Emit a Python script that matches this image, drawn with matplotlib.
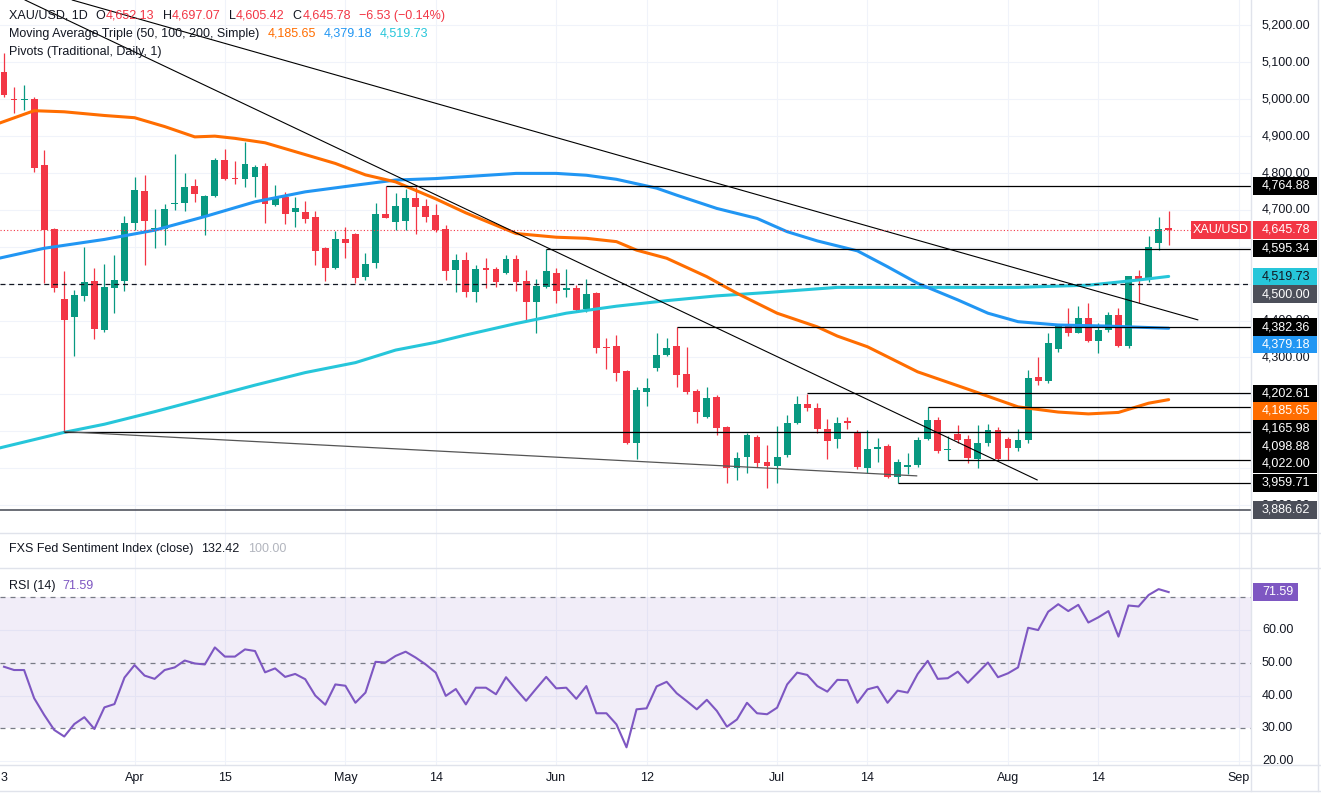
import matplotlib

matplotlib.use("Agg")
import matplotlib.pyplot as plt  # noqa: E402
from matplotlib.lines import Line2D  # noqa: E402
from matplotlib.patches import Rectangle  # noqa: E402
from matplotlib.transforms import blended_transform_factory as blend  # noqa: E402

plt.rcParams["font.family"] = ["Liberation Sans", "DejaVu Sans"]

# --- daily XAU/USD candles (bar index 0 .. 116) ---------------------------------
opens = [5074, 5002, 4999, 5000, 4822, 4648, 4458, 4410, 4467, 4507,
         4374, 4489, 4508, 4665, 4751, 4647, 4647, 4716, 4718, 4765,
         4682, 4739, 4835, 4786, 4785, 4788, 4819, 4714, 4734, 4693,
         4694, 4680, 4596, 4542, 4620, 4634, 4519, 4557, 4688, 4668,
         4671, 4732, 4711, 4686, 4648, 4537, 4564, 4478, 4542, 4540,
         4528, 4567, 4507, 4451, 4490, 4530, 4483, 4489, 4431, 4476,
         4328, 4331, 4262, 4069, 4207, 4271, 4308, 4331, 4255, 4210,
         4139, 4194, 4112, 3999, 4029, 4085, 4016, 4006, 4035, 4123,
         4174, 4162, 4105, 4078, 4129, 4097, 4000, 4052, 4061, 3975,
         4002, 4008, 4079, 4130, 4049, 4093, 4078, 4024, 4067, 4103,
         4079, 4054, 4076, 4246, 4237, 4322, 4388, 4367, 4406, 4345,
         4374, 4415, 4331, 4521, 4510, 4609, 4652.13]
highs = [5125, 5032, 5039, 5007, 4862, 4651, 4534, 4483, 4600, 4542,
         4553, 4578, 4683, 4790, 4796, 4702, 4716, 4851, 4799, 4783,
         4740, 4840, 4866, 4833, 4884, 4822, 4828, 4767, 4748, 4734,
         4725, 4697, 4600, 4644, 4654, 4637, 4584, 4718, 4765, 4747,
         4758, 4763, 4729, 4716, 4659, 4580, 4587, 4551, 4569, 4546,
         4578, 4577, 4537, 4514, 4595, 4542, 4541, 4496, 4513, 4478,
         4352, 4361, 4265, 4219, 4243, 4365, 4352, 4382, 4329, 4214,
         4221, 4198, 4115, 4045, 4096, 4090, 4063, 4114, 4144, 4195,
         4202, 4177, 4132, 4139, 4139, 4103, 4103, 4081, 4065, 4026,
         4040, 4085, 4166, 4139, 4088, 4117, 4090, 4117, 4120, 4111,
         4084, 4105, 4266, 4302, 4367, 4390, 4435, 4439, 4447, 4394,
         4424, 4433, 4521, 4537, 4629, 4680, 4697.07]
lows = [5006, 4963, 4971, 4804, 4502, 4477, 4099, 4305, 4454, 4350,
        4368, 4420, 4481, 4645, 4551, 4598, 4605, 4700, 4698, 4722,
        4632, 4736, 4781, 4770, 4763, 4736, 4665, 4710, 4662, 4654,
        4665, 4551, 4508, 4539, 4569, 4501, 4510, 4542, 4677, 4645,
        4645, 4636, 4668, 4641, 4510, 4478, 4465, 4451, 4487, 4490,
        4527, 4481, 4400, 4365, 4487, 4447, 4463, 4424, 4422, 4311,
        4268, 4237, 4066, 4024, 4168, 4262, 4305, 4219, 4201, 4123,
        4135, 4090, 3960, 3968, 3986, 4004, 3945, 3960, 4030, 4119,
        4156, 4094, 4024, 4054, 4106, 3997, 3986, 4017, 3972, 3960,
        3983, 4004, 4076, 4041, 4022, 4067, 4013, 3999, 4060, 4022,
        4022, 4047, 4067, 4225, 4232, 4315, 4358, 4365, 4343, 4311,
        4370, 4329, 4325, 4448, 4505, 4591, 4605.42]
closes = [5011, 4998, 5001, 4813, 4645, 4488, 4401, 4469, 4504, 4377,
          4491, 4510, 4665, 4754, 4671, 4650, 4702, 4718, 4761, 4742,
          4738, 4835, 4785, 4784, 4824, 4815, 4716, 4734, 4688, 4704,
          4676, 4589, 4542, 4620, 4609, 4516, 4553, 4688, 4679, 4711,
          4732, 4709, 4682, 4645, 4535, 4564, 4478, 4540, 4537, 4505,
          4567, 4504, 4451, 4494, 4534, 4481, 4489, 4429, 4472, 4326,
          4325, 4259, 4069, 4212, 4216, 4307, 4327, 4252, 4207, 4153,
          4189, 4109, 3999, 4027, 4090, 4015, 4006, 4031, 4121, 4174,
          4162, 4105, 4074, 4121, 4123, 4002, 4051, 4058, 3975, 4017,
          4009, 4076, 4130, 4047, 4052, 4075, 4027, 4067, 4103, 4024,
          4054, 4076, 4245, 4237, 4338, 4388, 4365, 4406, 4345, 4374,
          4415, 4331, 4521, 4513, 4600, 4648, 4645.78]
change, change_pct = -6.53, -0.14

# --- simple moving averages (sampled along the curves) -------------------------
ma50_bars = [-1, 3, 6, 10, 13, 16, 19, 21, 23, 26, 30, 33, 36, 39, 43, 46, 51, 55,
             58, 61, 63, 66, 70, 73, 77, 81, 83, 86, 91, 96, 101, 105, 108, 111,
             114, 116]
ma50 = [4930, 4969, 4966, 4956, 4950, 4926, 4898, 4900, 4894, 4882, 4850, 4826,
        4795, 4776, 4730, 4692, 4636, 4626, 4623, 4614, 4591, 4569, 4519, 4474,
        4420, 4383, 4358, 4329, 4261, 4214, 4166, 4152, 4147, 4151, 4176, 4185.65]
ma100_bars = [-1, 4, 10, 15, 20, 25, 30, 35, 39, 43, 51, 55, 58, 61, 65, 67, 71,
              75, 78, 81, 85, 88, 91, 95, 98, 101, 105, 110, 116]
ma100 = [4566, 4596, 4620, 4645, 4682, 4722, 4749, 4767, 4781, 4785, 4799, 4799,
         4794, 4783, 4759, 4740, 4704, 4677, 4641, 4616, 4589, 4546, 4501, 4456,
         4420, 4397, 4388, 4385, 4379.18]
ma200_bars = [-1, 6, 10, 15, 20, 25, 30, 35, 39, 43, 46, 51, 56, 61, 66, 71, 76,
              83, 91, 101, 108, 113, 116]
ma200 = [4051, 4097, 4119, 4153, 4189, 4225, 4259, 4286, 4320, 4341, 4361, 4392,
         4420, 4439, 4454, 4467, 4476, 4490, 4490, 4490, 4496, 4510, 4519.73]

# --- pivot levels (value, first bar) and hand-drawn trend lines -----------------
pivot_levels = [4764.88, 4595.34, 4382.36, 4202.61, 4165.98, 4098.88, 4022.00, 3959.71]
pivot_start = [38, 54, 67, 80, 92, 6, 94, 89]
level_dashed = 4500.00
level_bottom = 3886.62
trend_a_bars, trend_a_prices = [2.1, 102.9], [5269, 3968]
trend_b_bars, trend_b_prices = [6.8, 118.9], [5269, 4402]
trend_c_bars, trend_c_prices = [6, 90.9], [4098.88, 3979]

# --- RSI(14) --------------------------------------------------------------------
rsi = [48.8, 47.8, 47.8, 39.2, 34.1, 29.5, 27.5, 31.3, 33.4, 29.8,
       36.4, 37.4, 45.5, 49.3, 46.1, 45.1, 47.8, 48.6, 50.7, 49.8,
       49.5, 54.7, 51.9, 51.9, 54.1, 53.6, 47.1, 48.3, 45.7, 46.6,
       45.0, 40.0, 37.2, 43.4, 43.0, 37.8, 40.9, 50.3, 50.1, 52.1,
       53.4, 51.6, 49.5, 47.0, 39.9, 42.0, 37.3, 42.4, 42.4, 40.4,
       45.6, 41.9, 38.4, 42.1, 45.7, 42.2, 42.4, 39.0, 42.9, 34.6,
       34.6, 31.2, 24.2, 35.8, 36.1, 42.8, 44.2, 40.7, 38.3, 35.8,
       38.7, 35.3, 30.5, 32.7, 37.8, 34.6, 34.3, 36.3, 43.4, 47.0,
       46.3, 42.9, 41.2, 44.8, 44.7, 37.8, 41.9, 42.7, 37.8, 41.5,
       40.9, 46.6, 50.6, 45.1, 45.3, 47.3, 43.9, 47.0, 50.1, 45.6,
       46.8, 48.6, 60.7, 60.0, 65.6, 67.9, 65.8, 67.7, 62.3, 63.9,
       65.8, 58.0, 67.5, 67.2, 70.7, 72.5, 71.59]
fed_sentiment, fed_base = 132.42, 100.00

date_ticks = [0, 13, 22, 34, 43, 55, 64, 77, 86, 100, 109, 123]
date_labels = ["3", "Apr", "15", "May", "14", "Jun", "12", "Jul", "14", "Aug", "14", "Sep"]
price_ticks = list(range(3900, 5300, 100))
rsi_ticks = [20, 30, 40, 50, 60]

# --- styling -------------------------------------------------------------------
W, H = 1321, 793
UP, DOWN = "#089981", "#f23645"
TEXT = "#131722"
GRID = "#f0f3fa"
BORDER = "#e0e3eb"
C50, C100, C200 = "#ff6d00", "#2196f3", "#26c6da"
PURPLE = "#7e57c2"
FS = 9.0


def fx(px):
    return px / W


def fy(py):
    return 1 - py / H


fig = plt.figure(figsize=(W / 100, H / 100), dpi=100)
fig.patch.set_facecolor("white")
renderer = fig.canvas.get_renderer()
ax = fig.add_axes([0, fy(533), fx(1251), 533 / H])
ax_fxs = fig.add_axes([0, fy(568), fx(1251), 35 / H])
ax_rsi = fig.add_axes([0, fy(765), fx(1251), 197 / H])
for a in (ax, ax_fxs, ax_rsi):
    a.set_axis_off()
    a.set_xlim(-0.4, 124.2)
ax.set_ylim(3824.1, 5269.1)
ax_rsi.set_ylim(18.8, 78.95)
ppx = (5269.1 - 3824.1) / 533  # price units per pixel

# grid
for p in price_ticks:
    ax.axhline(p, color=GRID, lw=0.8, zorder=0)
for v in (20, 40, 60):
    ax_rsi.axhline(v, color=GRID, lw=0.8, zorder=0)
for b in date_ticks[1:]:
    for a in (ax, ax_fxs, ax_rsi):
        a.axvline(b, color=GRID, lw=0.8, zorder=0)

# candles
idx = list(range(len(opens)))
cols = [UP if c >= o else DOWN for o, c in zip(opens, closes)]
bottoms = [min(o, c) for o, c in zip(opens, closes)]
heights = [max(abs(c - o), 2.7) for o, c in zip(opens, closes)]
ax.vlines(idx, lows, highs, colors=cols, lw=0.9, zorder=3)
ax.bar(idx, heights, bottom=bottoms, width=0.68, color=cols, lw=0, zorder=3)

# moving averages
ax.plot(ma200_bars, ma200, color=C200, lw=2.2, zorder=4, solid_capstyle="round")
ax.plot(ma100_bars, ma100, color=C100, lw=2.2, zorder=4, solid_capstyle="round")
ax.plot(ma50_bars, ma50, color=C50, lw=2.2, zorder=4, solid_capstyle="round")

# drawings
xmax = ax.get_xlim()[1]
for lvl, b0 in zip(pivot_levels, pivot_start):
    ax.hlines(lvl, b0, xmax, color="black", lw=0.9, zorder=5)
ax.axhline(level_dashed, color=TEXT, lw=0.9, ls=(0, (4, 3)), zorder=5)
ax.axhline(level_bottom, color="#434651", lw=1.1, zorder=5)
ax.plot(trend_a_bars, trend_a_prices, color="black", lw=0.8, zorder=5)
ax.plot(trend_b_bars, trend_b_prices, color="black", lw=0.8, zorder=5)
ax.plot(trend_c_bars, trend_c_prices, color="#555555", lw=0.9, zorder=5)
last = closes[-1]
ax.axhline(last, color=DOWN, lw=0.8, ls=(0, (1, 2)), zorder=5)

# tags on the price scale, stacked downward so they never overlap
tags = [(lvl, "black", "white") for lvl in pivot_levels]
tags += [(last, DOWN, "white"), (level_dashed, "#4c4f5a", "white"),
         (level_bottom, "#4c4f5a", "white"), (ma50[-1], C50, "white"),
         (ma100[-1], C100, "white"), (ma200[-1], C200, TEXT)]
tags.sort(key=lambda t: -t[0])
tag_h = 17.6 * ppx
placed = []
prev = None
for val, bg, fg in tags:
    pos = val if prev is None else min(val, prev - tag_h)
    prev = pos
    placed.append((val, pos, bg, fg))

# price scale labels: skip those that a tag hides completely
tr = blend(fig.transFigure, ax.transData)
half_txt = 5.5 * ppx
for p in price_ticks:
    hidden = any(pos - tag_h / 2 <= p - half_txt and p + half_txt <= pos + tag_h / 2
                 for _, pos, _, _ in placed)
    span_hidden = sum(1 for _, pos, _, _ in placed if abs(pos - p) < tag_h) >= 2
    if hidden or span_hidden:
        continue
    ax.text(fx(1262), p, f"{p:,.2f}", transform=tr, ha="left", va="center",
            fontsize=FS, color=TEXT, clip_on=False, zorder=6)

for val, pos, bg, fg in placed:
    ax.add_patch(Rectangle((fx(1253), pos - tag_h / 2), fx(64), tag_h, transform=tr,
                           facecolor=bg, edgecolor="none", clip_on=False, zorder=10))
    ax.text(fx(1262), pos, f"{val:,.2f}", transform=tr, ha="left", va="center",
            fontsize=FS, color=fg, clip_on=False, zorder=11)

ax.add_patch(Rectangle((fx(1191), last - tag_h / 2), fx(60), tag_h, transform=tr,
                       facecolor=DOWN, edgecolor="none", clip_on=False, zorder=10))
ax.text(fx(1221), last, "XAU/USD", transform=tr, ha="center", va="center",
        fontsize=FS, color="white", clip_on=False, zorder=11)

# RSI pane
ax_rsi.axhspan(30, 70, color=PURPLE, alpha=0.1, lw=0, zorder=0)
for v in (70, 50, 30):
    ax_rsi.axhline(v, color="#787b86", lw=0.9, ls=(0, (4, 4)), zorder=1)
ax_rsi.plot(range(len(rsi)), rsi, color=PURPLE, lw=1.5, zorder=3)
tr_r = blend(fig.transFigure, ax_rsi.transData)
for v in rsi_ticks:
    ax_rsi.text(fx(1262), v, f"{v:.2f}", transform=tr_r, ha="left", va="center",
                fontsize=FS, color=TEXT, clip_on=False, zorder=6)
rh = 18 / 197 * (78.95 - 18.8)
ax_rsi.add_patch(Rectangle((fx(1253), rsi[-1] - rh / 2), fx(45), rh, transform=tr_r,
                           facecolor=PURPLE, edgecolor="none", clip_on=False, zorder=10))
ax_rsi.text(fx(1262), rsi[-1], f"{rsi[-1]:.2f}", transform=tr_r, ha="left",
            va="center", fontsize=FS, color="white", clip_on=False, zorder=11)

# time scale strip (covers anything spilling below the RSI pane)
fig.patches.append(Rectangle((0, 0), 1, fy(765), transform=fig.transFigure,
                             facecolor="white", edgecolor="none", zorder=3))
tr_d = blend(ax_rsi.transData, fig.transFigure)
for b, lab in zip(date_ticks, date_labels):
    fig.text(b, fy(778), lab, transform=tr_d, ha="center", va="center",
             fontsize=FS, color=TEXT, zorder=4)

# pane separators
for yy in (533, 568, 765, 791):
    fig.lines.append(Line2D([0, 1], [fy(yy), fy(yy)], transform=fig.transFigure,
                            color=BORDER, lw=1, zorder=5))
for xx in (1251, 1318):
    fig.lines.append(Line2D([fx(xx), fx(xx)], [fy(791), 1], transform=fig.transFigure,
                            color=BORDER, lw=1, zorder=5))


# legends: pieces laid out left to right, each followed by a gap in pixels
def row(y, pieces, x0=9):
    x = x0
    for s, c, gap in pieces:
        t = fig.text(fx(x), fy(y), s, ha="left", va="center", fontsize=FS,
                     color=c, zorder=6)
        x += t.get_window_extent(renderer).width + gap


row(16, [("XAU/USD, 1D", TEXT, 8), ("O", TEXT, 0.5), (f"{opens[-1]:,.2f}", DOWN, 8),
         ("H", TEXT, 0.5), (f"{highs[-1]:,.2f}", DOWN, 8),
         ("L", TEXT, 0.5), (f"{lows[-1]:,.2f}", DOWN, 8),
         ("C", TEXT, 0.5), (f"{closes[-1]:,.2f}", DOWN, 8),
         (f"\u2212{abs(change):.2f} (\u2212{abs(change_pct):.2f}%)", DOWN, 0)])
row(34, [("Moving Average Triple (50, 100, 200, Simple)", TEXT, 8),
         (f"{ma50[-1]:,.2f}", C50, 8), (f"{ma100[-1]:,.2f}", C100, 8),
         (f"{ma200[-1]:,.2f}", C200, 0)])
row(52, [("Pivots (Traditional, Daily, 1)", TEXT, 0)])
row(549, [("FXS Fed Sentiment Index (close)", TEXT, 8),
          (f"{fed_sentiment:.2f}", TEXT, 8), (f"{fed_base:.2f}", "#b2b5be", 0)])
row(586, [("RSI (14)", TEXT, 7), (f"{rsi[-1]:.2f}", PURPLE, 0)])

fig.savefig("out.png", dpi=100, facecolor="white")
